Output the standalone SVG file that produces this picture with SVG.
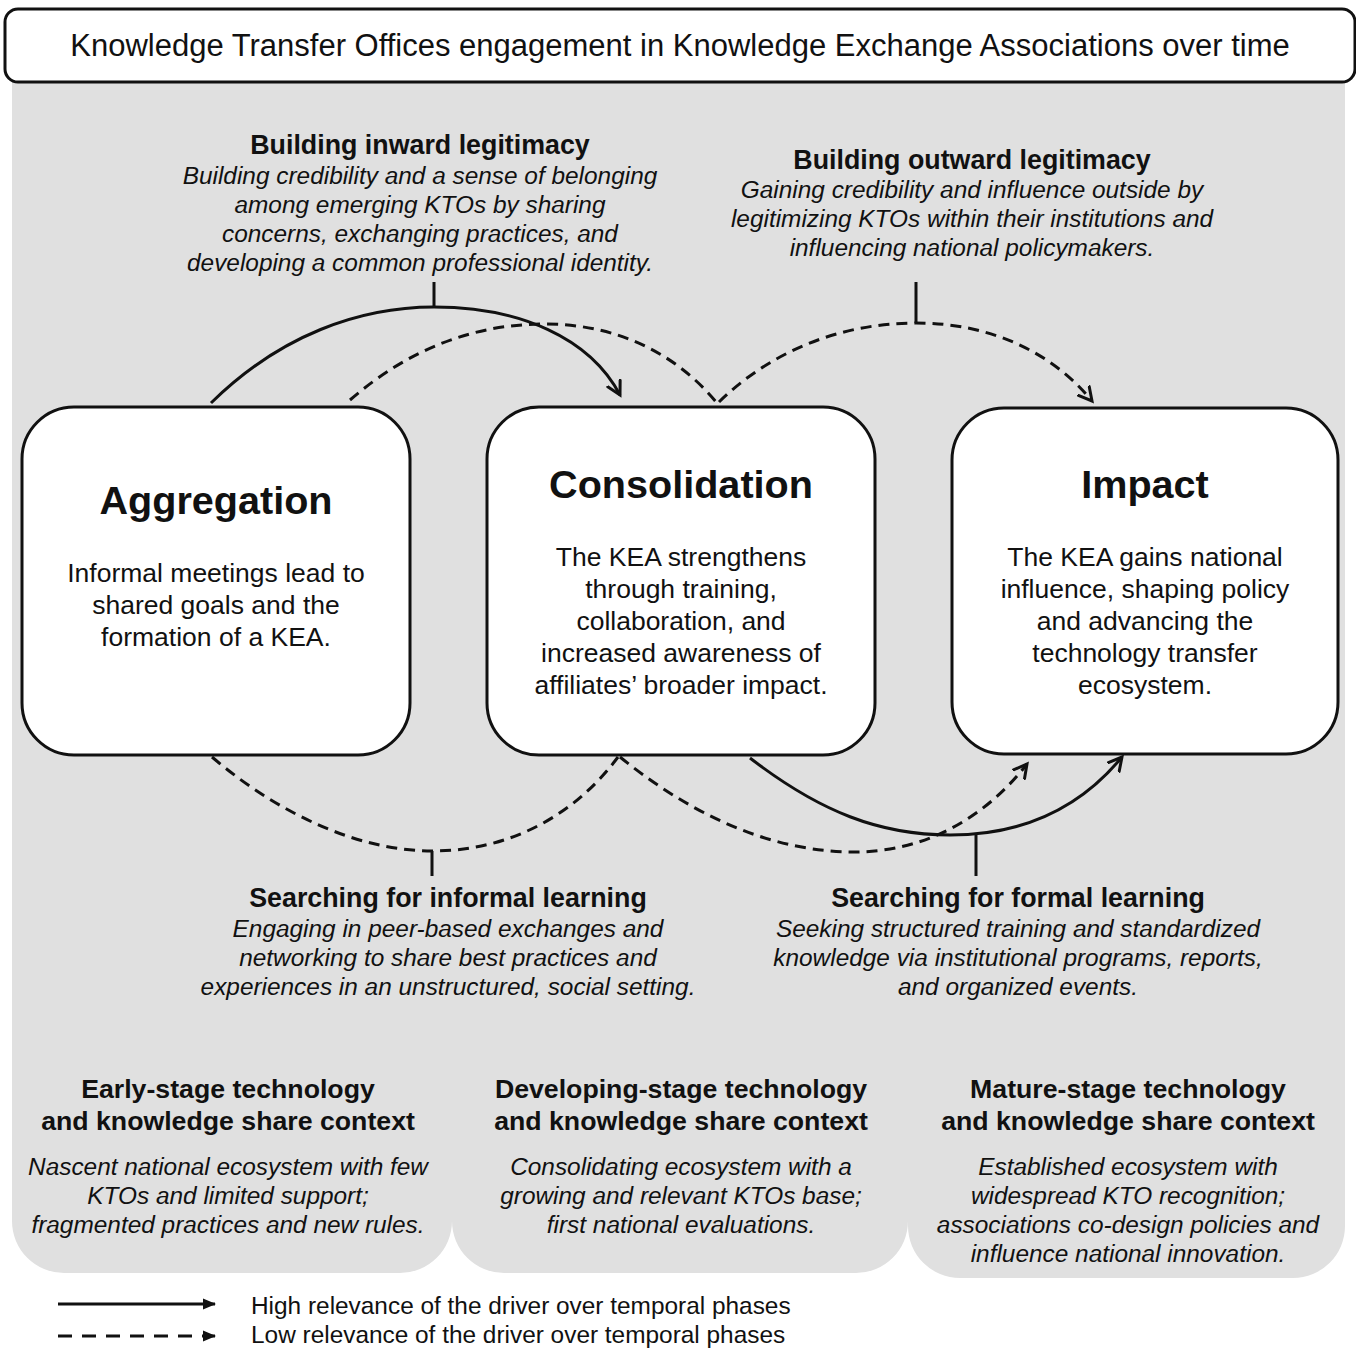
<svg xmlns="http://www.w3.org/2000/svg" width="1356" height="1348" viewBox="0 0 1356 1348">
  <defs>
    <marker id="open-arrow" markerUnits="userSpaceOnUse" markerWidth="20" markerHeight="20" refX="14" refY="8" orient="auto" viewBox="0 0 20 16">
      <path d="M1,1 L14,8 L1,15" fill="none" stroke="#111" stroke-width="3" stroke-linecap="round" stroke-linejoin="miter"/>
    </marker>
    <marker id="solid-head" markerUnits="userSpaceOnUse" markerWidth="14" markerHeight="12" refX="12" refY="6" orient="auto" viewBox="0 0 14 12">
      <path d="M0,0.5 L13,6 L0,11.5 Z" fill="#111"/>
    </marker>
    <style>
      text { font-family: "Liberation Sans", Arial, sans-serif; fill: #111; text-anchor: middle; }
      .title { font-size: 31px; }
      .driver { font-size: 26.8px; font-weight: bold; }
      .desc { font-size: 24.4px; font-style: italic; }
      .phase { font-size: 39.6px; font-weight: bold; }
      .body { font-size: 26.5px; }
      .ctx { font-size: 26.7px; font-weight: bold; }
      .legend { font-size: 24.4px; text-anchor: start; }
      .box { fill: #fff; stroke: #111; stroke-width: 3; }
      .conn { fill: none; stroke: #111; stroke-width: 3; }
      .dash { stroke-dasharray: 11 7; }
      .tick { stroke: #111; stroke-width: 3; }
    </style>
  </defs>

  <!-- grey backdrop with three rounded lobes at the bottom -->
  <path id="backdrop" fill="#e0e0e0" d="M12,60 H1345 V1226 A52,52 0 0 1 1293,1278 H960 A52,52 0 0 1 908,1226 V1221 A52,52 0 0 1 856,1273 H504 A52,52 0 0 1 452,1221 A52,52 0 0 1 400,1273 H64 A52,52 0 0 1 12,1221 Z"/>

  <!-- title banner -->
  <g id="title">
    <rect x="5" y="9" width="1350" height="73" rx="13" ry="13" class="box"/>
    <text x="680" y="56" class="title">Knowledge Transfer Offices engagement in Knowledge Exchange Associations over time</text>
  </g>

  <!-- connectors -->
  <g id="connectors">
    <path class="conn" d="M211,403 C280,335 360,307 434,307 C520,307 590,338 620,395" marker-end="url(#open-arrow)"/>
    <path class="conn dash" d="M350,400 C410,348 475,324 545,324 C615,324 675,352 717,403"/>
    <path class="conn dash" d="M719,402 C770,352 840,323 916,323 C990,323 1052,352 1092,401" marker-end="url(#open-arrow)"/>
    <path class="conn dash" d="M212,757 C280,815 360,851 432,851 C510,851 575,815 618,757"/>
    <path class="conn dash" d="M620,757 C700,822 780,852 854,852 C925,852 985,818 1027,764" marker-end="url(#open-arrow)"/>
    <path class="conn" d="M750,758 C820,812 880,835 950,835 C1030,835 1085,802 1122,757" marker-end="url(#open-arrow)"/>
    <line class="tick" x1="434" y1="282" x2="434" y2="307"/>
    <line class="tick" x1="916" y1="282" x2="916" y2="323"/>
    <line class="tick" x1="432" y1="851" x2="432" y2="876"/>
    <line class="tick" x1="976" y1="835" x2="976" y2="876"/>
  </g>

  <!-- phase nodes -->
  <g id="aggregation">
    <rect x="22" y="407" width="388" height="348" rx="52" ry="52" class="box"/>
    <text x="216" y="514" class="phase">Aggregation</text>
    <text x="216" y="582" class="body">Informal meetings lead to</text>
    <text x="216" y="614" class="body">shared goals and the</text>
    <text x="216" y="646" class="body">formation of a KEA.</text>
  </g>

  <g id="consolidation">
    <rect x="487" y="407" width="388" height="348" rx="52" ry="52" class="box"/>
    <text x="681" y="498" class="phase">Consolidation</text>
    <text x="681" y="566" class="body">The KEA strengthens</text>
    <text x="681" y="598" class="body">through training,</text>
    <text x="681" y="630" class="body">collaboration, and</text>
    <text x="681" y="662" class="body">increased awareness of</text>
    <text x="681" y="694" class="body">affiliates’ broader impact.</text>
  </g>

  <g id="impact">
    <rect x="952" y="408" width="386" height="346" rx="52" ry="52" class="box"/>
    <text x="1145" y="498" class="phase">Impact</text>
    <text x="1145" y="566" class="body">The KEA gains national</text>
    <text x="1145" y="598" class="body">influence, shaping policy</text>
    <text x="1145" y="630" class="body">and advancing the</text>
    <text x="1145" y="662" class="body">technology transfer</text>
    <text x="1145" y="694" class="body">ecosystem.</text>
  </g>

  <!-- drivers -->
  <g id="inward-legitimacy">
    <text x="420" y="154" class="driver">Building inward legitimacy</text>
    <text x="420" y="184" class="desc">Building credibility and a sense of belonging</text>
    <text x="420" y="213" class="desc">among emerging KTOs by sharing</text>
    <text x="420" y="242" class="desc">concerns, exchanging practices, and</text>
    <text x="420" y="271" class="desc">developing a common professional identity.</text>
  </g>

  <g id="outward-legitimacy">
    <text x="972" y="169" class="driver">Building outward legitimacy</text>
    <text x="972" y="198" class="desc">Gaining credibility and influence outside by</text>
    <text x="972" y="227" class="desc">legitimizing KTOs within their institutions and</text>
    <text x="972" y="256" class="desc">influencing national policymakers.</text>
  </g>

  <g id="informal-learning">
    <text x="448" y="907" class="driver">Searching for informal learning</text>
    <text x="448" y="937" class="desc">Engaging in peer-based exchanges and</text>
    <text x="448" y="966" class="desc">networking to share best practices and</text>
    <text x="448" y="995" class="desc">experiences in an unstructured, social setting.</text>
  </g>

  <g id="formal-learning">
    <text x="1018" y="907" class="driver">Searching for formal learning</text>
    <text x="1018" y="937" class="desc">Seeking structured training and standardized</text>
    <text x="1018" y="966" class="desc">knowledge via institutional programs, reports,</text>
    <text x="1018" y="995" class="desc">and organized events.</text>
  </g>

  <!-- context panels -->
  <g id="early-context">
    <text x="228" y="1098" class="ctx">Early-stage technology</text>
    <text x="228" y="1130" class="ctx">and knowledge share context</text>
    <text x="228" y="1175" class="desc">Nascent national ecosystem with few</text>
    <text x="228" y="1204" class="desc">KTOs and limited support;</text>
    <text x="228" y="1233" class="desc">fragmented practices and new rules.</text>
  </g>

  <g id="developing-context">
    <text x="681" y="1098" class="ctx">Developing-stage technology</text>
    <text x="681" y="1130" class="ctx">and knowledge share context</text>
    <text x="681" y="1175" class="desc">Consolidating ecosystem with a</text>
    <text x="681" y="1204" class="desc">growing and relevant KTOs base;</text>
    <text x="681" y="1233" class="desc">first national evaluations.</text>
  </g>

  <g id="mature-context">
    <text x="1128" y="1098" class="ctx">Mature-stage technology</text>
    <text x="1128" y="1130" class="ctx">and knowledge share context</text>
    <text x="1128" y="1175" class="desc">Established ecosystem with</text>
    <text x="1128" y="1204" class="desc">widespread KTO recognition;</text>
    <text x="1128" y="1233" class="desc">associations co-design policies and</text>
    <text x="1128" y="1262" class="desc">influence national innovation.</text>
  </g>

  <!-- legend -->
  <g id="legend">
    <line x1="58" y1="1304" x2="215" y2="1304" stroke="#111" stroke-width="3" marker-end="url(#solid-head)"/>
    <line x1="58" y1="1336" x2="215" y2="1336" stroke="#111" stroke-width="3" stroke-dasharray="14 10" marker-end="url(#solid-head)"/>
    <text x="251" y="1314" class="legend">High relevance of the driver over temporal phases</text>
    <text x="251" y="1343" class="legend">Low relevance of the driver over temporal phases</text>
  </g>
</svg>
